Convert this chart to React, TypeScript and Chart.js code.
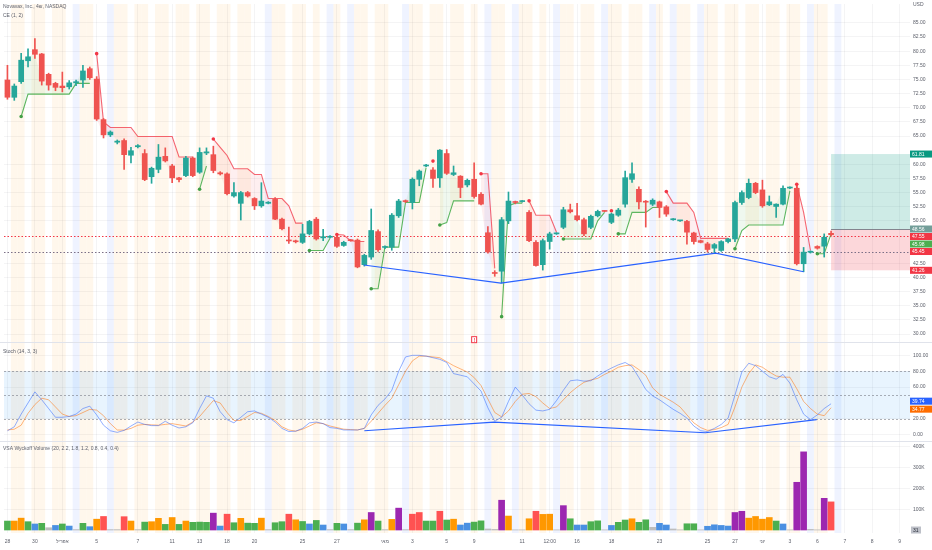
import React, { useEffect, useRef } from 'react';
import { Chart, registerables } from 'chart.js';

Chart.register(...registerables);

const FONT = '"Liberation Sans", Arial, sans-serif';
const TEXT_GRAY = '#5d606b';
const GRID = 'rgba(42,46,57,0.05)';
const UP = '#26a69a';
const DOWN = '#ef5350';

// ---------- categories / time axis ----------
const CATEGORY_COUNT = 132;
const X_TICK_INDEX = [0, 4, 8, 13, 19, 24, 28, 32, 36, 43, 48, 55, 59, 64, 68, 75, 79, 83, 88, 95, 102, 106, 110, 114, 118, 122, 126, 130];
const X_TICK_TEXT = ['28', '30', 'אפריל', '5', '7', '11', '13', '18', '20', '25', '27', 'מאי', '3', '5', '9', '11', '12:00', '16', '18', '23', '25', '27', 'יוני', '3', '6', '7', '8', '9'];

// ---------- candles ----------
const OPEN = [
  74.9, 71.84, 74.6, 78.3, 80.26, 79.5, 75.9, 74.3, 73.83, 73.7,
  74.4, 74.9, 76.9, 75.06, 67.9, 65.2, 63.9, 64.2, 61.6, 63.1,
  61.9, 57.8, 59.1, 61.4, 59.7, 57.6, 58.0, 61.1, 58.6, 62.0,
  61.7, 58.5, 58.3, 54.4, 53.1, 55.0, 53.95, 52.66, 53.1, 53.8,
  50.3, 46.6, 46.4, 46.2, 47.7, 50.3, 47.0, 47.1, 47.1, 45.65,
  46.6, 46.6, 42.26, 43.6, 48.1, 45.3, 45.35, 50.9, 53.5, 53.25,
  57.35, 59.7, 59.0, 57.6, 61.9, 58.2, 57.9, 56.35, 57.35, 54.7,
  47.9, 40.85, 41.1, 50.0, 53.3, 53.4, 51.5, 46.2, 42.26, 46.35,
  47.7, 48.86, 51.96, 50.9, 50.2, 48.86, 50.9, 51.75, 49.74, 51.0,
  52.95, 57.34, 55.58, 53.4, 52.95, 53.36, 52.48, 50.2, 50.0, 49.9,
  47.86, 46.5, 45.93, 45.17, 44.77, 46.34, 46.8, 53.24, 54.12, 56.64,
  55.47, 52.84, 52.54, 52.95, 55.8, 55.76, 42.42, 44.45, 45.47, 45.52,
  47.8,
];
const HIGH = [
  77.5, 74.2, 79.6, 80.4, 82.2, 79.6, 76.1, 74.5, 76.3, 74.8,
  74.9, 77.5, 77.2, 75.5, 68.1, 65.9, 64.3, 64.5, 63.0, 63.5,
  62.6, 59.5, 63.5, 62.9, 60.0, 57.7, 61.4, 61.3, 62.9, 62.9,
  63.2, 58.7, 58.5, 56.75, 55.2, 55.2, 54.1, 56.75, 53.4, 54.1,
  50.5, 48.9, 46.6, 49.4, 50.1, 50.6, 48.5, 47.4, 47.5, 46.4,
  46.7, 46.8, 44.1, 52.1, 48.4, 45.6, 51.3, 53.8, 53.7, 57.6,
  59.0, 60.0, 59.4, 62.6, 62.6, 59.7, 58.0, 57.4, 60.27, 55.0,
  49.0, 41.2, 50.6, 55.1, 53.5, 53.6, 51.8, 46.5, 46.8, 48.0,
  47.9, 52.4, 52.96, 53.1, 50.5, 51.0, 51.9, 51.8, 51.4, 52.2,
  58.8, 60.26, 56.0, 53.6, 53.9, 53.5, 52.7, 50.4, 50.1, 50.1,
  48.0, 46.6, 46.2, 46.0, 46.5, 46.9, 53.5, 55.3, 57.4, 56.8,
  57.2, 54.4, 53.0, 56.2, 56.0, 56.3, 45.3, 44.7, 45.6, 47.7,
  48.2,
];
const LOW = [
  71.5, 71.3, 74.3, 77.2, 78.7, 74.0, 73.1, 73.0, 72.8, 73.3,
  73.9, 73.6, 75.0, 67.75, 64.65, 64.9, 63.6, 59.1, 60.26, 62.9,
  57.1, 56.64, 58.5, 60.4, 56.75, 56.9, 57.8, 57.8, 58.4, 61.7,
  58.5, 58.1, 54.6, 54.2, 50.15, 54.2, 52.0, 52.4, 53.0, 50.2,
  48.4, 46.0, 46.1, 46.0, 47.5, 46.6, 46.5, 47.0, 45.3, 45.5,
  46.4, 41.7, 42.0, 43.2, 44.6, 45.1, 44.8, 50.6, 53.2, 52.1,
  56.2, 59.6, 55.9, 55.9, 58.2, 58.0, 54.1, 56.0, 54.0, 52.8,
  44.3, 40.2, 39.0, 49.5, 53.0, 53.3, 46.3, 42.0, 41.3, 45.0,
  47.6, 48.6, 51.4, 50.0, 47.4, 48.6, 50.7, 51.6, 49.5, 50.8,
  52.4, 56.8, 52.1, 48.9, 52.7, 50.6, 50.8, 50.1, 49.9, 45.9,
  45.9, 46.1, 44.5, 44.3, 44.6, 46.1, 46.3, 52.9, 53.9, 54.8,
  52.4, 52.7, 50.6, 52.8, 55.7, 42.2, 41.0, 44.3, 45.0, 43.6,
  47.4,
];
const CLOSE = [
  71.85, 73.83, 78.4, 79.0, 79.44, 74.7, 74.0, 73.6, 73.54, 74.4,
  74.6, 76.5, 75.3, 68.0, 65.2, 65.7, 64.1, 61.7, 62.4, 63.3,
  57.3, 59.3, 61.26, 60.6, 57.6, 57.3, 61.1, 58.0, 62.1, 62.2,
  58.9, 58.3, 54.8, 55.0, 55.0, 54.4, 52.66, 53.5, 53.3, 50.3,
  48.6, 46.45, 46.3, 47.7, 49.9, 46.8, 47.2, 47.25, 45.5, 46.2,
  46.5, 41.85, 43.9, 48.3, 44.9, 45.4, 51.0, 53.5, 53.4, 57.35,
  58.8, 59.8, 57.5, 62.5, 58.4, 58.5, 55.9, 57.17, 54.3, 52.96,
  44.5, 40.7, 50.2, 53.5, 53.25, 53.5, 46.5, 42.1, 46.5, 47.7,
  47.8, 51.96, 51.6, 50.2, 47.7, 50.8, 51.67, 51.67, 51.2, 51.9,
  57.63, 58.33, 53.36, 53.3, 53.65, 52.37, 51.2, 50.3, 50.05, 48.0,
  46.34, 46.2, 44.94, 45.8, 46.34, 46.8, 53.24, 55.0, 56.64, 55.0,
  52.66, 53.36, 52.95, 55.76, 55.9, 42.42, 44.47, 44.55, 45.17, 47.1,
  47.55,
];

// ---------- volume (thousands) and VSA class ----------
const VOLUME_K = [
  43, 43, 57, 40, 29, 32, 11, 22, 29, 19,
  2, 32, 16, 52, 65, 2, 2, 64, 43, 2,
  38, 40, 56, 27, 60, 27, 43, 37, 38, 37,
  81, 19, 76, 35, 56, 33, 32, 57, 2, 35,
  40, 76, 49, 41, 29, 46, 24, 2, 32, 29,
  2, 33, 49, 84, 43, 2, 51, 105, 2, 76,
  84, 43, 43, 90, 48, 52, 24, 33, 38, 44,
  5, 3, 143, 67, 1, 1, 54, 90, 75, 76,
  1, 117, 54, 24, 24, 40, 44, 1, 22, 37,
  48, 54, 37, 49, 13, 32, 24, 5, 1, 30,
  30, 1, 18, 25, 22, 19, 84, 90, 57, 65,
  52, 60, 43, 29, 1, 229, 375, 3, 1, 152,
  135,
];
const VOLUME_CLASS =
  'googbgybgb' + 'ygboryyroy' + 'googogoggg' + 'pbrgoggoyg' + 'grogbgbygb' +
  'ygopgyopyr' + 'rggrgobbgg' + 'yypoyyoroo' + 'ypgbbggybg' + 'goggybbyyg' +
  'gybbbbppoo' + 'oogbyppyyp' + 'r';
const VOLUME_COLORS: Record<string, string> = {
  g: '#4caf50', o: '#ff9800', b: '#4a90e2', r: '#ff5252', p: '#9c27b0', y: '#bdbdbd',
};

// ---------- stochastic ----------
const STOCH_K = [
  5, 10, 26, 40, 54, 44, 33, 22, 22, 23,
  26, 33, 36, 25, 12, 5, 3, 5.5, 11, 16,
  13, 11.5, 11.5, 17, 12, 8.5, 10, 15, 33, 49,
  46, 29, 19, 15, 22, 29, 30, 26, 22, 16,
  8, 4, 4.5, 8, 15, 16, 14, 9, 8, 6,
  6, 6, 8, 25, 37, 45, 56, 80, 98, 100,
  100, 99, 97, 95, 91, 77, 75, 73, 64, 55,
  34, 17, 22, 42, 60, 50, 39, 31, 30, 32,
  43, 56, 68, 69, 67.5, 68, 74, 79.5, 84, 88,
  91, 86, 72, 57, 49, 44, 38, 32, 27, 21,
  11, 5, 4, 8, 13, 21, 50, 79, 90, 87,
  80, 73, 70, 76, 65, 44, 26, 19, 25, 33,
  39,
];
const STOCH_D = [
  6, 7, 12, 27, 38, 46, 44, 35, 26, 23,
  24, 28, 32, 31, 24, 14, 6, 5.8, 8, 12,
  13, 12.5, 12, 13, 14, 12.5, 11, 16, 23, 33,
  43, 40, 28, 18, 18, 23, 28, 27, 23, 18,
  10, 6, 4.5, 7, 11, 15, 14, 11, 9, 7,
  6.5, 6, 8, 17, 27, 37, 46, 63, 80, 93,
  99, 99, 98, 97, 92, 87, 83, 79, 72, 62,
  45, 28, 22.5, 30, 42, 51, 52, 48, 40, 33,
  35, 44, 53, 60, 66, 69, 71, 76, 80, 85,
  87, 88, 82, 75, 59, 51, 46, 41, 35, 25,
  15, 9, 5.5, 6.5, 9, 13, 35, 60, 77, 88,
  85, 79, 74, 72.5, 72.5, 58, 42, 33, 26, 24,
  34,
];
const STOCH_UPPER = 80;
const STOCH_MID = 50;
const STOCH_LOWER = 20;

// ---------- chandelier exit runs: [start index, values] ----------
const CE_LONG_RUNS: [number, number[]][] = [
  [2, [68.45, 72.4, 72.4, 72.4, 72.4, 72.4, 72.4, 72.4, 74.3, 74.3, 74.3]],
  [28, [55.6, 59.7]],
  [44, [44.76, 44.76, 44.76, 46.93]],
  [53, [38.0, 38.0, 45.35, 45.35, 45.35, 53.25, 53.25, 53.25, 59.4]],
  [63, [49.27, 49.7, 53.54, 53.54, 53.54, 53.54]],
  [72, [33.07, 52.66, 53.13, 53.13]],
  [81, [46.8, 46.8, 46.8, 46.8, 46.8, 50.0, 51.5]],
  [89, [47.7, 47.7, 51.5, 51.5, 51.5, 52.37, 52.37]],
  [106, [45.06, 48.27, 49.27, 49.27, 49.27, 49.27, 49.27, 49.27, 55.3]],
  [118, [44.18, 44.18, 47.7]],
];
const CE_SHORT_RUNS: [number, number[]][] = [
  [13, [79.56, 67.5, 66.5, 66.5, 66.5, 66.5, 64.9, 64.9, 64.9, 64.9, 64.9, 64.9, 61.3, 61.3, 61.3]],
  [30, [64.47, 63.0, 61.55, 59.2, 59.2, 59.2, 58.2, 58.2, 53.95, 53.95, 53.95, 52.66, 49.6, 49.6]],
  [48, [47.6, 47.5, 46.5, 46.35, 46.35]],
  [62, [60.56]],
  [69, [58.34, 58.34, 41.6]],
  [76, [53.54, 51.0, 51.0, 51.0, 48.0]],
  [88, [51.8]],
  [96, [55.17, 53.13, 53.13, 53.13, 51.5, 46.9, 46.9, 46.9, 46.9, 46.9]],
  [115, [56.46, 51.5, 44.77]],
];

// ---------- zigzag trend lines ----------
const PRICE_ZIGZAG_X = [51.9, 71.9, 103.2, 116.0];
const PRICE_ZIGZAG_Y = [42.2, 39.0, 44.3, 41.0];
const STOCH_ZIGZAG_X = [52.0, 70.9, 101.7, 117.9];
const STOCH_ZIGZAG_Y = [5, 16, 2.5, 19];

// ---------- session background (o = pre, w = regular, b = post) ----------
const SESSION_SEGMENTS = [
  'woowoowoowb', 'oowwb', 'oowoowoowoowoowoowooww', 'b', 'oowoowow', 'b', 'ow', 'b',
  'oowooww', 'b', 'oowoowoowow', 'b', 'oow', 'b', 'oowow', 'b', 'oowoow', 'b', 'oowoow', 'b',
  'ow', 'b', 'oow', 'b', 'oowoowoowoowoow', 'b', 'oow', 'b', 'wwwwwwwwww',
];
const SESSIONS = SESSION_SEGMENTS.join('');

// ---------- axis ticks ----------
const PRICE_TICKS = [85, 82.5, 80, 77.5, 75, 72.5, 70, 67.5, 65, 60, 57.5, 55, 52.5, 50, 42.5, 40, 37.5, 35, 32.5, 30];
const STOCH_TICKS = [100, 80, 60, 20, 0];
const VOLUME_TICKS_K = [400, 300, 200, 100];

// ---------- scale ranges (one pane each, sharing the chart area) ----------
const P_MIN = -5.175, P_MAX = 88.333;
const S_MIN = -123.75, S_MAX = 542.5;
const V_MIN = -14.29, V_MAX = 2523.8;
const STOCH_PANE_TOP = 116.25;
const VOLUME_PANE_TOP = 428.6;

// ---------- position tool, price lines, markers ----------
const POS_START = 120;
const POS_TARGET = 61.81;
const POS_ENTRY = 48.56;
const POS_STOP = 41.26;
const LAST_PRICE_LINE = 47.4;
const PREV_PRICE_LINE = 44.5;
const EVENT_INDEX = 68;
const EVENT_PRICE = 29.0;

const PRICE_TAGS = [
  { value: POS_TARGET, text: '61.81', bg: '#089981' },
  { value: POS_ENTRY, text: '48.56', bg: '#739e99' },
  { value: 47.55, text: '47.55', bg: '#f23645' },
  { value: 45.98, text: '45.98', bg: '#4caf50' },
  { value: 45.45, text: '45.45', bg: '#f23645' },
  { value: POS_STOP, text: '41.26', bg: '#f23645' },
];
const STOCH_TAGS = [
  { value: 39.74, text: '39.74', bg: '#2962ff' },
  { value: 34.77, text: '34.77', bg: '#ff6d00' },
];

const TITLE_MAIN = 'Novavax, Inc., 4ש, NASDAQ';
const TITLE_CE = 'CE (1, 2)';
const TITLE_STOCH = 'Stoch (14, 3, 3)';
const TITLE_VOLUME = 'VSA Wyckoff Volume (20, 2.2, 1.8, 1.2, 0.8, 0.4, 0.4)';

const toPriceUnits = (v: number, min: number, max: number) =>
  P_MIN + ((v - min) / (max - min)) * (P_MAX - P_MIN);

const Y_TICK_DEFS = [
  ...PRICE_TICKS.map((v) => ({ value: v, text: v.toFixed(2) })),
  ...STOCH_TICKS.map((v) => ({ value: toPriceUnits(v, S_MIN, S_MAX), text: v.toFixed(2) })),
  ...VOLUME_TICKS_K.map((v) => ({ value: toPriceUnits(v, V_MIN, V_MAX), text: `${v}K` })),
].sort((a, b) => a.value - b.value);

const buildRuns = (runs: [number, number[]][], n: number) => {
  const arr: (number | null)[] = new Array(n).fill(null);
  runs.forEach(([s, vals]) => vals.forEach((v, k) => { arr[s + k] = v; }));
  return arr;
};
const buildDots = (runs: [number, number[]][], n: number) => {
  const arr: (number | null)[] = new Array(n).fill(null);
  runs.forEach(([s, vals]) => { arr[s] = vals[0]; });
  return arr;
};

function tag(ctx: CanvasRenderingContext2D, x0: number, yc: number, w: number, text: string, bg: string, fg: string) {
  ctx.fillStyle = bg;
  ctx.fillRect(x0, yc - 3.5, w, 7);
  ctx.fillStyle = fg;
  ctx.font = `5px ${FONT}`;
  ctx.textAlign = 'left';
  ctx.textBaseline = 'middle';
  ctx.fillText(text, x0 + 2, yc + 0.3);
}

const overlayPlugin = {
  id: 'overlay',
  beforeDatasetsDraw(chart: any) {
    const { ctx, chartArea: ca, scales } = chart;
    const x = scales.x, y = scales.y, ys = scales.ys, yv = scales.yv;
    const slot = x.getPixelForValue(1) - x.getPixelForValue(0);
    ctx.save();
    // session stripes
    for (let i = 0; i < SESSIONS.length; i++) {
      const s = SESSIONS[i];
      if (s === 'w') continue;
      const cx = x.getPixelForValue(i);
      ctx.fillStyle = s === 'o' ? 'rgba(255,152,0,0.075)' : 'rgba(41,98,255,0.075)';
      ctx.fillRect(cx - slot / 2, ca.top, slot, ca.bottom - ca.top);
    }
    // stoch band
    const b80 = ys.getPixelForValue(STOCH_UPPER);
    const b20 = ys.getPixelForValue(STOCH_LOWER);
    ctx.fillStyle = 'rgba(33,150,243,0.1)';
    ctx.fillRect(ca.left, b80, ca.right - ca.left, b20 - b80);
    ctx.setLineDash([2, 2]);
    ctx.strokeStyle = 'rgba(120,123,134,0.6)';
    ctx.lineWidth = 1;
    [STOCH_UPPER, STOCH_MID, STOCH_LOWER].forEach((v) => {
      const py = Math.round(ys.getPixelForValue(v)) + 0.5;
      ctx.beginPath(); ctx.moveTo(ca.left, py); ctx.lineTo(ca.right, py); ctx.stroke();
    });
    ctx.setLineDash([]);
    // pane separators
    ctx.strokeStyle = '#e0e3eb';
    [ys.getPixelForValue(STOCH_PANE_TOP), yv.getPixelForValue(VOLUME_PANE_TOP)].forEach((p: number) => {
      const py = Math.round(p) + 0.5;
      ctx.beginPath(); ctx.moveTo(0, py); ctx.lineTo(chart.width, py); ctx.stroke();
    });
    // position tool
    const px0 = x.getPixelForValue(POS_START);
    const px1 = ca.right;
    const yT = y.getPixelForValue(POS_TARGET), yE = y.getPixelForValue(POS_ENTRY), yS = y.getPixelForValue(POS_STOP);
    ctx.fillStyle = 'rgba(8,153,129,0.2)';
    ctx.fillRect(px0, yT, px1 - px0, yE - yT);
    ctx.fillStyle = 'rgba(242,54,69,0.2)';
    ctx.fillRect(px0, yE, px1 - px0, yS - yE);
    ctx.strokeStyle = 'rgba(120,123,134,0.9)';
    ctx.beginPath(); ctx.moveTo(px0, Math.round(yE) + 0.5); ctx.lineTo(px1, Math.round(yE) + 0.5); ctx.stroke();
    // dotted price lines
    ctx.setLineDash([1.5, 2]);
    ctx.lineWidth = 1;
    ctx.strokeStyle = '#f23645';
    let py = Math.round(y.getPixelForValue(LAST_PRICE_LINE)) + 0.5;
    ctx.beginPath(); ctx.moveTo(ca.left, py); ctx.lineTo(ca.right, py); ctx.stroke();
    ctx.strokeStyle = '#7b6f86';
    py = Math.round(y.getPixelForValue(PREV_PRICE_LINE)) + 0.5;
    ctx.beginPath(); ctx.moveTo(ca.left, py); ctx.lineTo(ca.right, py); ctx.stroke();
    ctx.restore();
  },
  afterDraw(chart: any) {
    const { ctx, chartArea: ca, scales } = chart;
    const x = scales.x, y = scales.y, ys = scales.ys, yv = scales.yv;
    ctx.save();
    // titles
    ctx.fillStyle = TEXT_GRAY;
    ctx.font = `5px ${FONT}`;
    ctx.textAlign = 'left';
    ctx.textBaseline = 'middle';
    ctx.fillText(TITLE_MAIN, 3, 7);
    ctx.fillText(TITLE_CE, 3, 16);
    ctx.fillText(TITLE_STOCH, 3, 352);
    ctx.fillText(TITLE_VOLUME, 3, 449);
    ctx.fillText('USD', ca.right + 3, 5);
    // price tags with stacking
    const tags = PRICE_TAGS.map((t) => ({ ...t, py: y.getPixelForValue(t.value) })).sort((a, b) => a.py - b.py);
    for (let i = 1; i < tags.length; i++) {
      if (tags[i].py < tags[i - 1].py + 7.5) tags[i].py = tags[i - 1].py + 7.5;
    }
    tags.forEach((t) => tag(ctx, ca.right, t.py, 22, t.text, t.bg, '#ffffff'));
    const st = STOCH_TAGS.map((t) => ({ ...t, py: ys.getPixelForValue(t.value) })).sort((a, b) => a.py - b.py);
    const mid = (st[0].py + st[1].py) / 2;
    if (st[1].py - st[0].py < 8) { st[0].py = mid - 4; st[1].py = mid + 4; }
    st.forEach((t) => tag(ctx, ca.right, t.py, 22, t.text, t.bg, '#ffffff'));
    tag(ctx, ca.right + 1, yv.getPixelForValue(0), 10, '31', 'rgba(178,181,190,0.85)', '#2a2e39');
    // event marker
    const ex = x.getPixelForValue(EVENT_INDEX);
    const ey = y.getPixelForValue(EVENT_PRICE);
    ctx.fillStyle = '#ffffff';
    ctx.fillRect(ex - 3, ey - 3.5, 6, 7);
    ctx.strokeStyle = '#f23645';
    ctx.lineWidth = 1;
    ctx.strokeRect(ex - 3 + 0.5, ey - 3.5 + 0.5, 5, 6);
    ctx.fillStyle = '#f23645';
    ctx.font = `bold 5px ${FONT}`;
    ctx.textAlign = 'center';
    ctx.fillText('!', ex + 0.5, ey + 0.5);
    ctx.restore();
  },
};

export default function App() {
  const ref = useRef<HTMLCanvasElement>(null);
  useEffect(() => {
    document.body.style.margin = '0';
    const canvas = ref.current;
    if (!canvas) return;
    const n = OPEN.length;
    const labels = Array.from({ length: CATEGORY_COUNT }, (_, i) => {
      const k = X_TICK_INDEX.indexOf(i);
      return k >= 0 ? X_TICK_TEXT[k] : '';
    });
    const candleColors = OPEN.map((o, i) => (CLOSE[i] >= o ? UP : DOWN));
    const bodies = OPEN.map((o, i) => [o, CLOSE[i]]);
    const wicks = LOW.map((l, i) => [l, HIGH[i]]);
    const volColors = VOLUME_K.map((_, i) => VOLUME_COLORS[VOLUME_CLASS[i]] || '#bdbdbd');
    const ceLong = buildRuns(CE_LONG_RUNS, n);
    const ceShort = buildRuns(CE_SHORT_RUNS, n);
    const longDots = buildDots(CE_LONG_RUNS, n);
    const shortDots = buildDots(CE_SHORT_RUNS, n);
    const priceZig = PRICE_ZIGZAG_X.map((v, i) => ({ x: v, y: PRICE_ZIGZAG_Y[i] }));
    const stochZig = STOCH_ZIGZAG_X.map((v, i) => ({ x: v, y: STOCH_ZIGZAG_Y[i] }));

    const green = 'rgba(76,175,80,0.9)';
    const red = 'rgba(242,54,69,0.75)';
    const CLOSE_IDX = 11;

    const datasets: any[] = [
      { type: 'line', data: longDots, yAxisID: 'y', showLine: false, pointRadius: 1.8, pointBackgroundColor: '#43a047', pointBorderWidth: 0, order: 0 },
      { type: 'line', data: shortDots, yAxisID: 'y', showLine: false, pointRadius: 1.8, pointBackgroundColor: '#f23645', pointBorderWidth: 0, order: 0 },
      { type: 'line', data: priceZig, xAxisID: 'x2', yAxisID: 'y', borderColor: '#2962ff', borderWidth: 1.2, pointRadius: 0, order: 1 },
      { type: 'line', data: stochZig, xAxisID: 'x2', yAxisID: 'ys', borderColor: '#2962ff', borderWidth: 1.2, pointRadius: 0, order: 1 },
      { type: 'line', data: STOCH_K, yAxisID: 'ys', borderColor: 'rgba(41,98,255,0.5)', borderWidth: 1, pointRadius: 0, order: 2 },
      { type: 'line', data: STOCH_D, yAxisID: 'ys', borderColor: 'rgba(255,109,0,0.5)', borderWidth: 1, pointRadius: 0, order: 2 },
      { type: 'bar', data: bodies, yAxisID: 'y', backgroundColor: candleColors, barThickness: 5, grouped: false, minBarLength: 1, borderWidth: 0, order: 3 },
      { type: 'bar', data: wicks, yAxisID: 'y', backgroundColor: candleColors, barThickness: 1, grouped: false, borderWidth: 0, order: 4 },
      { type: 'bar', data: VOLUME_K, yAxisID: 'yv', backgroundColor: volColors, barThickness: 6, grouped: false, borderWidth: 0, order: 6 },
      { type: 'line', data: ceLong, yAxisID: 'y', borderColor: green, borderWidth: 1.1, pointRadius: 0, spanGaps: false,
        fill: { target: CLOSE_IDX, above: 'rgba(76,175,80,0.09)', below: 'rgba(76,175,80,0.09)' }, order: 5 },
      { type: 'line', data: ceShort, yAxisID: 'y', borderColor: red, borderWidth: 1.1, pointRadius: 0, spanGaps: false,
        fill: { target: CLOSE_IDX, above: 'rgba(242,54,69,0.08)', below: 'rgba(242,54,69,0.08)' }, order: 5 },
      { type: 'line', data: CLOSE, yAxisID: 'y', borderColor: 'rgba(0,0,0,0)', borderWidth: 0, pointRadius: 0, order: 7 },
    ];

    const chart = new Chart(canvas, {
      type: 'bar',
      data: { labels, datasets },
      options: {
        responsive: false,
        animation: false,
        events: [],
        layout: { padding: { left: 1.56, right: 0, top: 0, bottom: 0 } },
        plugins: { legend: { display: false }, tooltip: { enabled: false }, title: { display: false } },
        scales: {
          x: {
            type: 'category',
            offset: true,
            grid: { offset: false, color: GRID, drawTicks: false },
            border: { display: false },
            ticks: { autoSkip: false, maxRotation: 0, minRotation: 0, padding: 6, color: TEXT_GRAY, font: { size: 5, family: FONT } },
            afterBuildTicks: (s: any) => { s.ticks = X_TICK_INDEX.map((v) => ({ value: v })); },
            afterFit: (s: any) => { s.height = 17; s.paddingLeft = 0; s.paddingRight = 0; },
          },
          x2: { type: 'linear', display: false, offset: false, grid: { offset: false }, min: -0.5, max: CATEGORY_COUNT - 0.5 },
          y: {
            type: 'linear',
            position: 'right',
            min: P_MIN,
            max: P_MAX,
            grid: { color: GRID, drawTicks: false },
            border: { display: false },
            ticks: {
              autoSkip: false, padding: 3, color: TEXT_GRAY, font: { size: 5, family: FONT },
              callback: (_v: any, i: number) => (Y_TICK_DEFS[i] ? Y_TICK_DEFS[i].text : ''),
            },
            afterBuildTicks: (s: any) => { s.ticks = Y_TICK_DEFS.map((d) => ({ value: d.value })); },
            afterFit: (s: any) => { s.width = 22; s.paddingTop = 0; s.paddingBottom = 0; },
          },
          ys: { type: 'linear', display: false, min: S_MIN, max: S_MAX },
          yv: { type: 'linear', display: false, min: V_MIN, max: V_MAX },
        },
      } as any,
      plugins: [overlayPlugin as any],
    });
    return () => chart.destroy();
  }, []);
  return (
    <div style={{ width: 932, height: 550 }}>
      <canvas ref={ref} width={932} height={550} style={{ display: 'block' }} />
    </div>
  );
}
